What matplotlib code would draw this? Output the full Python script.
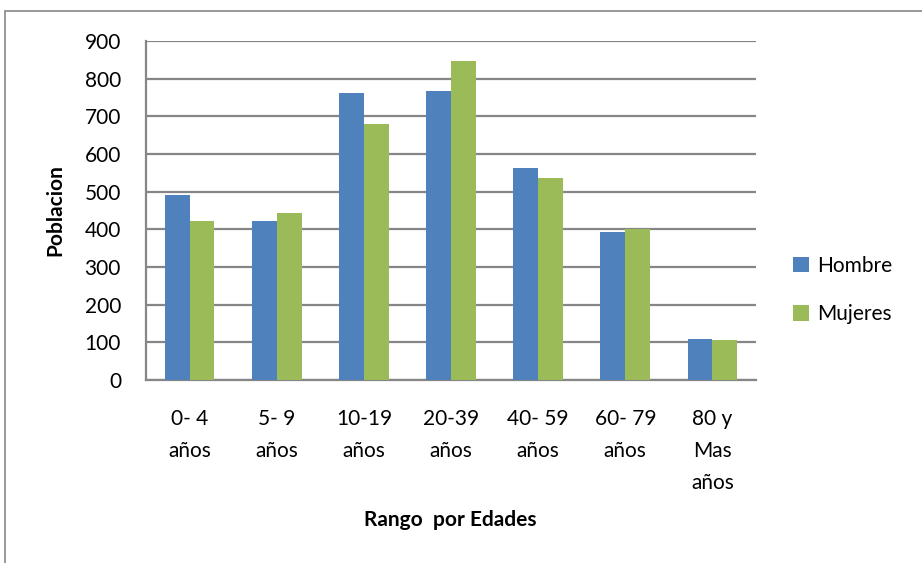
import matplotlib
matplotlib.use("Agg")
import matplotlib.pyplot as plt
import numpy as np
from matplotlib.patches import Rectangle

# age-range population counts
rangos = ["0- 4\naños", "5- 9\naños", "10-19\naños", "20-39\naños",
          "40- 59\naños", "60- 79\naños", "80 y\nMas\naños"]
hombre = [490, 422, 761, 766, 562, 392, 108]
mujeres = [422, 444, 680, 846, 535, 400, 106]
y_ticks = [0, 100, 200, 300, 400, 500, 600, 700, 800, 900]

plt.rcParams["font.family"] = ["Lato", "DejaVu Sans"]

fig = plt.figure(figsize=(9.22, 5.63), dpi=100)
ax = fig.add_axes([146 / 922, 1 - 380 / 563, 610 / 922, 339 / 563])

x = np.arange(len(rangos))
w = 1 / 3.5
ax.bar(x - w / 2, hombre, w, color="#4F81BD", label="Hombre", zorder=3)
ax.bar(x + w / 2, mujeres, w, color="#9BBB59", label="Mujeres", zorder=3)

ax.set_xlim(-0.5, len(rangos) - 0.5)
ax.set_ylim(0, 900)
ax.set_yticks(y_ticks)
ax.set_xticks(x)
ax.set_xticklabels(rangos, fontsize=15, linespacing=1.75, va="top")
ax.tick_params(axis="y", labelsize=15, length=0, pad=18)
ax.tick_params(axis="x", length=0, pad=21)
ax.yaxis.grid(True, color="#868686", linewidth=1.6, zorder=0)

for side in ["top", "right"]:
    ax.spines[side].set_visible(False)
for side in ["left", "bottom"]:
    ax.spines[side].set_color("#868686")
    ax.spines[side].set_linewidth(1.6)

ax.set_ylabel("Poblacion", fontsize=15, fontweight="bold", labelpad=14)
fig.text(450 / 922, 1 - 520 / 563, "Rango  por Edades", fontsize=15,
         fontweight="bold", ha="center", va="center")

ax.legend(loc="center left", bbox_to_anchor=(1.03, 0.265), frameon=False,
          fontsize=15, handlelength=0.75, handleheight=0.75,
          labelspacing=1.35, handletextpad=0.4)

# chart-area border
fig.patches.append(Rectangle((4.5 / 922, -0.1), 1.2, 1.1 - 11.5 / 563,
                             transform=fig.transFigure, fill=False,
                             edgecolor="#868686", linewidth=1.2))

fig.savefig("out.png", dpi=100)
